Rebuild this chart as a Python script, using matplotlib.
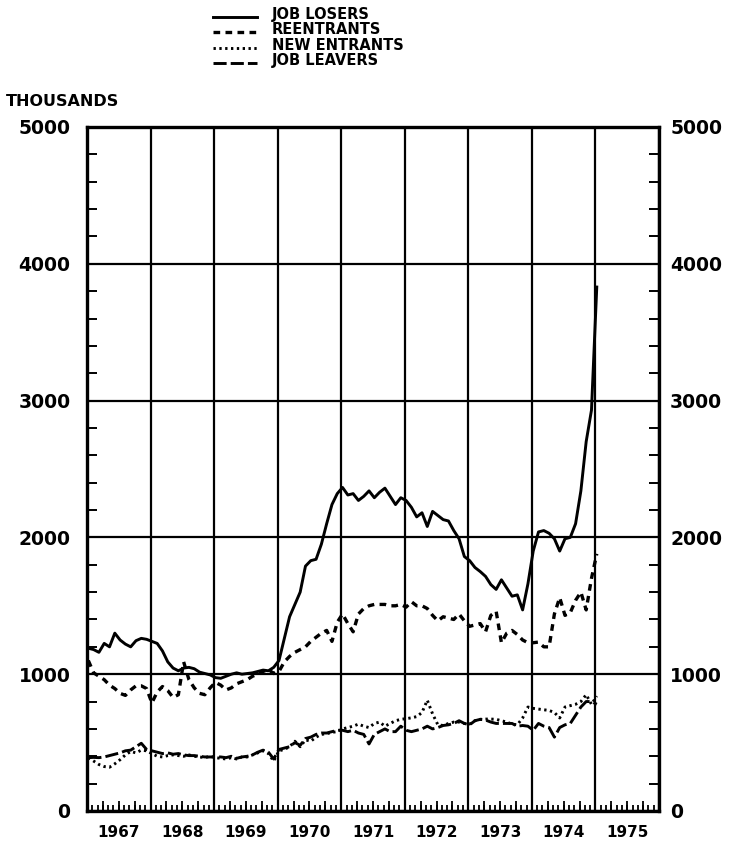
import numpy as np
import matplotlib
matplotlib.use("Agg")
import matplotlib.pyplot as plt
from matplotlib.ticker import MultipleLocator
from matplotlib.lines import Line2D

# ---------------- data (thousands, monthly Jan 1967 .. Jan 1975) ----------------
year_labels = ["1967", "1968", "1969", "1970", "1971", "1972", "1973", "1974", "1975"]
y_ticks = [0, 1000, 2000, 3000, 4000, 5000]
series_names = ["JOB LOSERS", "REENTRANTS", "NEW ENTRANTS", "JOB LEAVERS"]

job_losers = [
    1190, 1180, 1160, 1225, 1200, 1300, 1250, 1220, 1200, 1245, 1262, 1255,   # 1967
    1240, 1225, 1170, 1090, 1045, 1025, 1045, 1050, 1040, 1015, 1005, 995,    # 1968
    975, 970, 985, 1000, 1010, 1000, 1005, 1010, 1020, 1030, 1025, 1050,      # 1969
    1100, 1260, 1420, 1510, 1600, 1790, 1830, 1840, 1950, 2100, 2240, 2320,   # 1970
    2365, 2310, 2320, 2270, 2300, 2340, 2290, 2330, 2360, 2300, 2240, 2290,   # 1971
    2270, 2220, 2150, 2180, 2080, 2190, 2160, 2130, 2120, 2050, 1990, 1860,   # 1972
    1830, 1780, 1750, 1715, 1655, 1620, 1690, 1630, 1570, 1580, 1470, 1660,   # 1973
    1900, 2040, 2050, 2030, 1990, 1900, 1990, 2000, 2100, 2340, 2700, 2930,   # 1974
    3830,                                                                     # 1975
]
reentrants = [
    1100, 1010, 985, 960, 920, 895, 860, 845, 885, 915, 915, 895,
    790, 870, 910, 880, 830, 850, 1090, 960, 900, 860, 850, 900,
    940, 920, 885, 900, 930, 945, 960, 985, 1000, 1020, 1035, 1005,
    1020, 1090, 1130, 1160, 1180, 1200, 1240, 1270, 1300, 1320, 1240, 1380,
    1440, 1370, 1310, 1440, 1480, 1500, 1510, 1510, 1510, 1500, 1500, 1510,
    1490, 1530, 1500, 1500, 1480, 1430, 1390, 1420, 1410, 1400, 1440, 1390,
    1350, 1360, 1370, 1310, 1430, 1460, 1230, 1300, 1320, 1290, 1250, 1230,
    1230, 1235, 1200, 1200, 1440, 1560, 1430, 1450, 1540, 1600, 1470, 1700,
    1880,
]
new_entrants = [
    390, 365, 340, 325, 320, 345, 375, 410, 435, 425, 445, 440,
    420, 400, 395, 405, 410, 405, 400, 410, 400, 395, 390, 400,
    390, 385, 380, 390, 380, 395, 395, 410, 425, 440, 420, 365,
    440, 450, 470, 510, 470, 520, 510, 540, 560, 565, 575, 580,
    600, 610, 620, 635, 620, 610, 640, 650, 620, 640, 660, 670,
    675, 681, 690, 720, 810, 710, 630, 625, 640, 650, 650, 640,
    636, 660, 670, 672, 672, 670, 660, 650, 635, 630, 680, 760,
    750, 745, 740, 735, 720, 680, 760, 770, 780, 800, 850, 780,
    840,
]
job_leavers = [
    390, 392, 390, 395, 405, 415, 425, 440, 445, 470, 495, 450,
    440, 430, 420, 425, 415, 420, 410, 405, 405, 400, 395, 395,
    395, 395, 390, 400, 385, 395, 400, 410, 430, 445, 430, 380,
    450, 460, 470, 500, 480, 530, 540, 560, 570, 570, 580, 590,
    590, 580, 590, 570, 560, 490, 560, 580, 600, 580, 580, 620,
    590, 580, 590, 600, 620, 600, 610, 625, 630, 640, 660, 640,
    630, 660, 670, 665, 650, 640, 640, 640, 640, 620, 625, 620,
    590, 640, 620, 610, 540, 610, 630, 640, 700, 760, 800, 800,
    780,
]

start_year = 1967
t = start_year + (np.arange(len(job_losers)) + 0.25) / 12.0

# ---------------- figure ----------------
plt.rcParams["font.family"] = ["DejaVu Sans"]
plt.rcParams["font.weight"] = "bold"
W, H = 741, 842
fig = plt.figure(figsize=(W / 100, H / 100), dpi=100)
ax = fig.add_axes([87 / W, 1 - 811 / H, 572 / W, 684 / H])

lw = 2.1
styles = [
    dict(color="black", lw=lw, linestyle="-"),
    dict(color="black", lw=lw + 0.3, linestyle=(0, (2.0, 1.6))),
    dict(color="black", lw=lw, linestyle=(0, (0.8, 1.2))),
    dict(color="black", lw=lw, linestyle=(0, (4.5, 1.4))),
]
for vals, st in zip([job_losers, reentrants, new_entrants, job_leavers], styles):
    ax.plot(t, vals, **st)

n_years = len(year_labels)
ax.set_xlim(start_year, start_year + n_years)
ax.set_ylim(y_ticks[0], y_ticks[-1])

# year gridlines (major x) without labels
ax.set_xticks(np.arange(start_year, start_year + n_years + 1))
ax.set_xticklabels([])
ax.xaxis.set_minor_locator(MultipleLocator(1 / 12))
ax.tick_params(axis="x", which="major", length=0)
ax.tick_params(axis="x", which="minor", direction="in", length=4, width=1.3, bottom=True, top=False)

# quarter ticks (slightly longer)
secq = ax.secondary_xaxis("bottom")
secq.set_xticks(np.arange(start_year, start_year + n_years, 0.25))
secq.set_xticklabels([])
secq.tick_params(direction="in", length=7, width=1.3)
secq.spines["bottom"].set_visible(False)

# year labels centred in each year
secl = ax.secondary_xaxis("bottom")
secl.set_xticks(np.arange(start_year, start_year + n_years) + 0.5)
secl.set_xticklabels(year_labels, fontsize=11, fontweight="bold")
secl.tick_params(length=0, pad=10)
secl.spines["bottom"].set_visible(False)

# y ticks: left labels on main axis, right labels on a secondary axis
ax.set_yticks(y_ticks)
ax.set_yticklabels([str(v) for v in y_ticks], fontsize=13.5, fontweight="bold")
ax.yaxis.set_minor_locator(MultipleLocator(200))
ax.tick_params(axis="y", which="major", length=0, left=True, right=False,
               labelleft=True, labelright=False, pad=12)
ax.tick_params(axis="y", which="minor", direction="in", length=7, width=1.4,
               left=True, right=True)

secr = ax.secondary_yaxis("right")
secr.set_yticks(y_ticks)
secr.set_yticklabels([str(v) for v in y_ticks], fontsize=13.5, fontweight="bold")
secr.tick_params(length=0, pad=8)
secr.spines["right"].set_visible(False)

ax.grid(True, which="major", color="black", lw=1.6)
for s in ax.spines.values():
    s.set_linewidth(2.4)

fig.text(6 / W, 1 - 94 / H, "THOUSANDS", fontsize=11.5, fontweight="bold", va="top", ha="left")

# legend (handles drawn in figure space, labels as text)
leg_rows_y = [14, 29, 45, 60]
for name, st, ry in zip(series_names, styles, leg_rows_y):
    fig.add_artist(Line2D([213 / W, 257 / W], [1 - (ry + 3) / H] * 2,
                          transform=fig.transFigure, **st))
    fig.text(272 / W, 1 - ry / H, name, fontsize=10.5, fontweight="bold",
             va="center", ha="left")

fig.savefig("out.png", dpi=100)
